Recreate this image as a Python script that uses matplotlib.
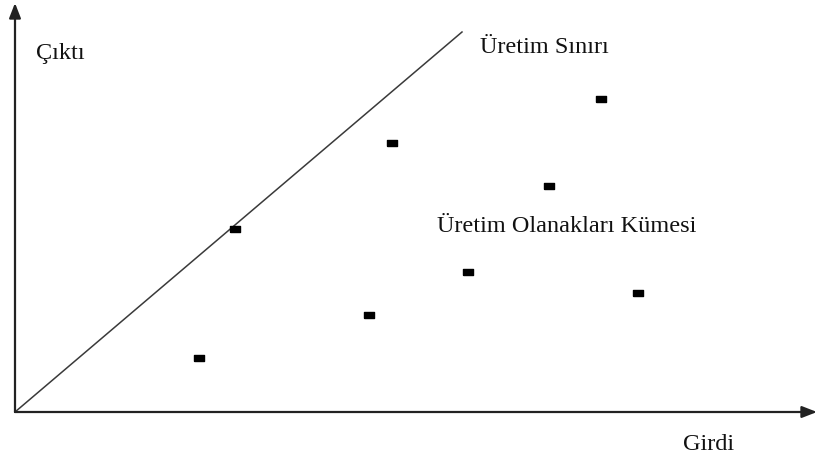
# coding:utf-8
import matplotlib
matplotlib.use('Agg')
import matplotlib.pyplot as plt

# frontier line (input, output), in picture units from the origin
frontier_x = [0, 447]
frontier_y = [0, 380]

# production possibility points
girdi = [184, 220, 354, 377, 453, 534, 586, 623]
cikti = [54, 183, 97, 269, 140, 226, 313, 119]

labels = ['Çıktı', 'Üretim Sınırı', 'Üretim Olanakları Kümesi', 'Girdi']

plt.rcParams['font.family'] = ['Liberation Serif', 'DejaVu Serif']

fig = plt.figure(figsize=(8.17, 4.59), dpi=100)
ax = fig.add_axes([0, 0, 1, 1])
ax.set_xlim(-15, 802)
ax.set_ylim(-47, 412)
ax.axis('off')

# axes with arrow heads
arrow = dict(arrowstyle='-|>,head_length=0.9,head_width=0.35', color='#222222',
             lw=1.6, shrinkA=0, shrinkB=0)
ax.annotate('', xy=(0, 409), xytext=(0, 0), arrowprops=arrow)
ax.annotate('', xy=(802, 0), xytext=(0, 0), arrowprops=arrow)

ax.plot(frontier_x, frontier_y, color='#3a3a3a', lw=1.1)

rect = [(-1, -0.5), (1, -0.5), (1, 0.5), (-1, 0.5), (-1, -0.5)]
ax.plot(girdi, cikti, ls='none', marker=rect, markersize=7.5, color='black')

fs = 17.5
tc = '#111111'
ax.text(21, 353, labels[0], fontsize=fs, color=tc, va='baseline')
ax.text(465, 359, labels[1], fontsize=fs, color=tc, va='baseline')
ax.text(422, 180, labels[2], fontsize=fs, color=tc, va='baseline')
ax.text(668, -38, labels[3], fontsize=fs, color=tc, va='baseline')

plt.savefig('out.png', dpi=100)
